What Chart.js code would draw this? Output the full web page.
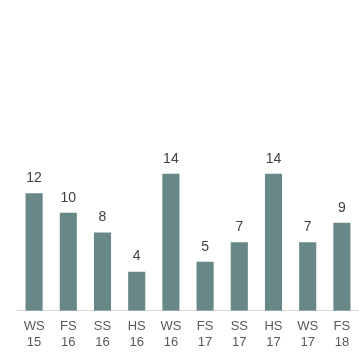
<!DOCTYPE html>
<html>
<head>
<meta charset="utf-8">
<script src="https://cdn.jsdelivr.net/npm/chart.js@4/dist/chart.umd.min.js"></script>
<style>
  html, body { margin: 0; padding: 0; background: #fff; }
  #wrap { width: 359px; height: 359px; }
</style>
</head>
<body>
<div id="wrap"><canvas id="chart"></canvas></div>
<script>
// Semester labels (two lines each) and counts
const terms = ['WS', 'FS', 'SS', 'HS', 'WS', 'FS', 'SS', 'HS', 'WS', 'FS'];
const years = ['15', '16', '16', '16', '16', '17', '17', '17', '17', '18'];
const counts = [12, 10, 8, 4, 14, 5, 7, 14, 7, 9];

const labels = terms.map((t, i) => [t, years[i]]);

// value labels above each bar
const valueLabels = {
    id: 'valueLabels',
    afterDatasetsDraw(chart) {
        const ctx = chart.ctx;
        const meta = chart.getDatasetMeta(0);
        ctx.save();
        ctx.font = '14px "Liberation Sans", Arial, sans-serif';
        ctx.fillStyle = '#404040';
        ctx.textAlign = 'center';
        ctx.textBaseline = 'bottom';
        meta.data.forEach((bar, i) => {
            ctx.fillText(String(counts[i]), bar.x, bar.y - 8);
        });
        ctx.restore();
    }
};

new Chart(document.getElementById('chart'), {
    type: 'bar',
    data: {
        labels: labels,
        datasets: [{
            data: counts,
            backgroundColor: '#688787',
            barPercentage: 0.5,
            categoryPercentage: 1.0
        }]
    },
    options: {
        responsive: true,
        maintainAspectRatio: false,
        animation: false,
        layout: { padding: { left: 17, right: 0, top: 17, bottom: 9 } },
        plugins: {
            legend: { display: false },
            tooltip: { enabled: false }
        },
        scales: {
            x: {
                grid: { display: false },
                border: { color: '#d9d9d9', width: 1 },
                ticks: {
                    color: '#595959',
                    font: { family: '"Liberation Sans", Arial, sans-serif', size: 13 },
                    padding: 0,
                    maxRotation: 0,
                    autoSkip: false
                }
            },
            y: {
                display: false,
                min: 0,
                max: 30
            }
        }
    },
    plugins: [valueLabels]
});
</script>
</body>
</html>
